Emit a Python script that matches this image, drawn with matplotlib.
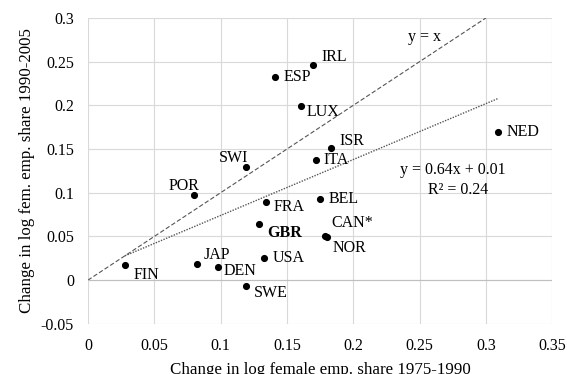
import matplotlib
matplotlib.use("Agg")
import matplotlib.pyplot as plt

plt.rcParams["font.family"] = ["Liberation Serif", "DejaVu Serif"]

# Données
pays = ["FIN", "JAP", "DEN", "SWE", "USA", "GBR", "FRA", "POR", "SWI",
        "BEL", "CAN*", "NOR", "ITA", "ISR", "LUX", "ESP", "IRL", "NED"]
x_1975_1990 = [0.028, 0.082, 0.098, 0.119, 0.133, 0.129, 0.134, 0.080, 0.119,
               0.175, 0.179, 0.180, 0.172, 0.183, 0.161, 0.141, 0.170, 0.309]
y_1990_2005 = [0.017, 0.019, 0.015, -0.007, 0.025, 0.064, 0.090, 0.097, 0.129,
               0.093, 0.051, 0.049, 0.138, 0.151, 0.199, 0.232, 0.246, 0.169]
# décalage des étiquettes (points) et alignement
decalages = {
    "FIN": (6, -7, "left"), "JAP": (5, 6, "left"), "DEN": (4, -3, "left"),
    "SWE": (6, -5, "left"), "USA": (6, 0, "left"), "GBR": (6, -6, "left"),
    "FRA": (6, -4, "left"), "POR": (-7, 7, "center"), "SWI": (-9, 7, "center"),
    "BEL": (6, 0, "left"), "CAN*": (4, 9, "left"), "NOR": (4, -8, "left"),
    "ITA": (5, 0, "left"), "ISR": (6, 5, "left"), "LUX": (4, -4, "left"),
    "ESP": (6, 0, "left"), "IRL": (6, 6, "left"), "NED": (6, 0, "left"),
}
pente, ordonnee = 0.64, 0.01

fig = plt.figure(figsize=(5.67, 3.74), dpi=100)
ax = fig.add_axes([0.155, 0.134, 0.819, 0.818])

ax.scatter(x_1975_1990, y_1990_2005, s=17, color="black", zorder=3)
for nom, xv, yv in zip(pays, x_1975_1990, y_1990_2005):
    dx, dy, ha = decalages[nom]
    ax.annotate(nom, (xv, yv), xytext=(dx, dy), textcoords="offset points",
                ha=ha, va="center", fontsize=11.5,
                fontweight="bold" if nom == "GBR" else "normal")

# droite y = x et tendance linéaire
ax.plot([0, 0.3], [0, 0.3], color="#555555", linestyle=(0, (4, 2)), linewidth=0.8)
x_min, x_max = min(x_1975_1990), max(x_1975_1990)
ax.plot([x_min, x_max], [pente * x_min + ordonnee, pente * x_max + ordonnee],
        color="#555555", linestyle=(0, (1, 1)), linewidth=1)
ax.text(0.254, 0.278, "y = x", ha="center", va="center", fontsize=11.5)
ax.text(0.235, 0.126, "y = 0.64x + 0.01", ha="left", va="center", fontsize=11.5)
ax.text(0.256, 0.103, "R² = 0.24", ha="left", va="center", fontsize=11.5)

ax.set_xlim(0, 0.35)
ax.set_ylim(-0.05, 0.3)
ax.set_xticks([0, 0.05, 0.1, 0.15, 0.2, 0.25, 0.3, 0.35])
ax.set_xticklabels(["0", "0.05", "0.1", "0.15", "0.2", "0.25", "0.3", "0.35"])
ax.set_yticks([-0.05, 0, 0.05, 0.1, 0.15, 0.2, 0.25, 0.3])
ax.set_yticklabels(["-0.05", "0", "0.05", "0.1", "0.15", "0.2", "0.25", "0.3"])
ax.tick_params(length=0, labelsize=11.5, pad=10)
ax.grid(True, color="#d9d9d9", linewidth=0.8)
ax.axhline(0, color="#bfbfbf", linewidth=0.8)
for s in ax.spines.values():
    s.set_visible(False)
ax.set_axisbelow(True)

ax.set_xlabel("Change in log female emp. share 1975-1990", fontsize=12.2, labelpad=6)
ax.set_ylabel("Change in log fem. emp. share 1990-2005", fontsize=12.2, labelpad=4)

fig.savefig("out.png", dpi=100)
